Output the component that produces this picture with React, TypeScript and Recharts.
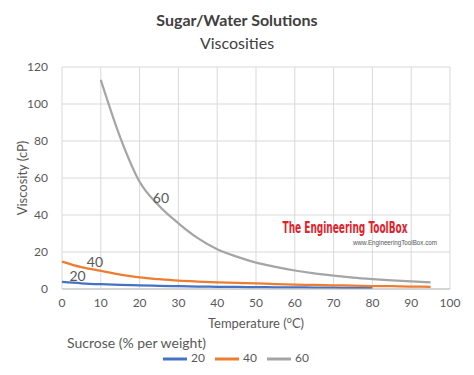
import { LineChart, Line, XAxis, YAxis, CartesianGrid, Legend, ReferenceDot, Label } from "recharts";

const temps = [0, 5, 10, 15, 20, 25, 30, 35, 40, 45, 50, 55, 60, 65, 70, 75, 80, 85, 90, 95];
const sucrose20 = [3.8, 3.1, 2.6, 2.2, 1.95, 1.7, 1.5, 1.35, 1.2, 1.1, 1.0, 0.92, 0.85, 0.78, 0.7, 0.65, 0.6, null, null, null];
const sucrose40 = [14.8, 11.8, 9.8, 7.8, 6.3, 5.3, 4.5, 4.0, 3.6, 3.3, 3.0, 2.7, 2.4, 2.2, 2.0, 1.8, 1.6, 1.5, 1.35, 1.2];
const sucrose60 = [null, null, 113, 82, 58, 45, 35.5, 27.5, 21.5, 17.5, 14.3, 12, 10, 8.4, 7.2, 6.2, 5.4, 4.7, 4.1, 3.6];
const xTicks = [0, 10, 20, 30, 40, 50, 60, 70, 80, 90, 100];
const yTicks = [0, 20, 40, 60, 80, 100, 120];

const series = [
  { key: "s20", name: "20", color: "#4472C4", values: sucrose20 },
  { key: "s40", name: "40", color: "#ED7D31", values: sucrose40 },
  { key: "s60", name: "60", color: "#A5A5A5", values: sucrose60 },
];

// curve labels placed in data coordinates
const curveLabels = [
  { text: "60", x: 25.5, y: 49 },
  { text: "40", x: 8.5, y: 14.6 },
  { text: "20", x: 4, y: 7 },
];

const font = "Lato, 'Open Sans', sans-serif";
const textColor = "#595959";

const data = temps.map((t, i) => {
  const row: Record<string, number | null> = { t };
  series.forEach((s) => {
    row[s.key] = s.values[i];
  });
  return row;
});

export default function App() {
  return (
    <div style={{ position: "absolute", left: 0, top: 0, width: 474, height: 375, background: "#fff", fontFamily: font }}>
      <div style={{ position: "absolute", top: 10, width: 474, textAlign: "center", color: "#404040", fontSize: 16, fontWeight: 700 }}>
        Sugar/Water Solutions
      </div>
      <div style={{ position: "absolute", top: 33, width: 474, textAlign: "center", color: "#404040", fontSize: 16 }}>
        Viscosities
      </div>
      <LineChart width={474} height={375} data={data} margin={{ top: 67, right: 24, bottom: 66, left: 0 }}>
        <CartesianGrid stroke="#d9d9d9" />
        <XAxis
          dataKey="t"
          type="number"
          domain={[0, 100]}
          ticks={xTicks}
          height={20}
          tickLine={false}
          axisLine={{ stroke: "#bfbfbf" }}
          tick={{ fill: textColor, fontSize: 12, fontFamily: font }}
          tickMargin={3}
        />
        <YAxis
          type="number"
          domain={[0, 120]}
          ticks={yTicks}
          width={62}
          tickLine={false}
          axisLine={false}
          tick={{ fill: textColor, fontSize: 12, fontFamily: font }}
          tickMargin={8}
        />
        {series.map((s) => (
          <Line
            key={s.key}
            type="monotone"
            dataKey={s.key}
            name={s.name}
            stroke={s.color}
            strokeWidth={2.25}
            dot={false}
            activeDot={false}
            isAnimationActive={false}
          />
        ))}
        {curveLabels.map((c) => (
          <ReferenceDot key={c.text} x={c.x} y={c.y} r={0} fill="none" stroke="none">
            <Label value={c.text} position="center" fill={textColor} fontSize={14} fontFamily={font} />
          </ReferenceDot>
        ))}
        <Legend
          layout="horizontal"
          verticalAlign="middle"
          align="center"
          iconType="plainline"
          iconSize={24}
          wrapperStyle={{ position: "absolute", top: 347, left: 4, width: 474, fontSize: 12, fontFamily: font }}
          formatter={(value) => <span style={{ color: textColor }}>{value}</span>}
        />
        <text x={24} y={178} transform="rotate(-90 24 178)" textAnchor="middle" dominantBaseline="middle" fill={textColor} fontSize={13} fontFamily={font}>
          Viscosity (cP)
        </text>
        <text x={256} y={328} textAnchor="middle" fill={textColor} fontSize={13} fontFamily={font}>
          Temperature (<tspan fontSize={9} dy={-5}>o</tspan>
          <tspan dy={5}>C)</tspan>
        </text>
        <text x={67} y={348} fill={textColor} fontSize={14} fontFamily={font}>
          Sucrose (% per weight)
        </text>
        <text x={345} y={233} textAnchor="middle" fill="#e3212b" fontSize={16} fontWeight={700} fontFamily="'Liberation Sans Narrow', 'DejaVu Sans Condensed', sans-serif" textLength={125} lengthAdjust="spacingAndGlyphs">
          The Engineering ToolBox
        </text>
        <text x={395} y={245} textAnchor="middle" fill="#555" fontSize={7} fontFamily="'Liberation Sans Narrow', sans-serif" textLength={84} lengthAdjust="spacingAndGlyphs">
          www.EngineeringToolBox.com
        </text>
      </LineChart>
    </div>
  );
}
